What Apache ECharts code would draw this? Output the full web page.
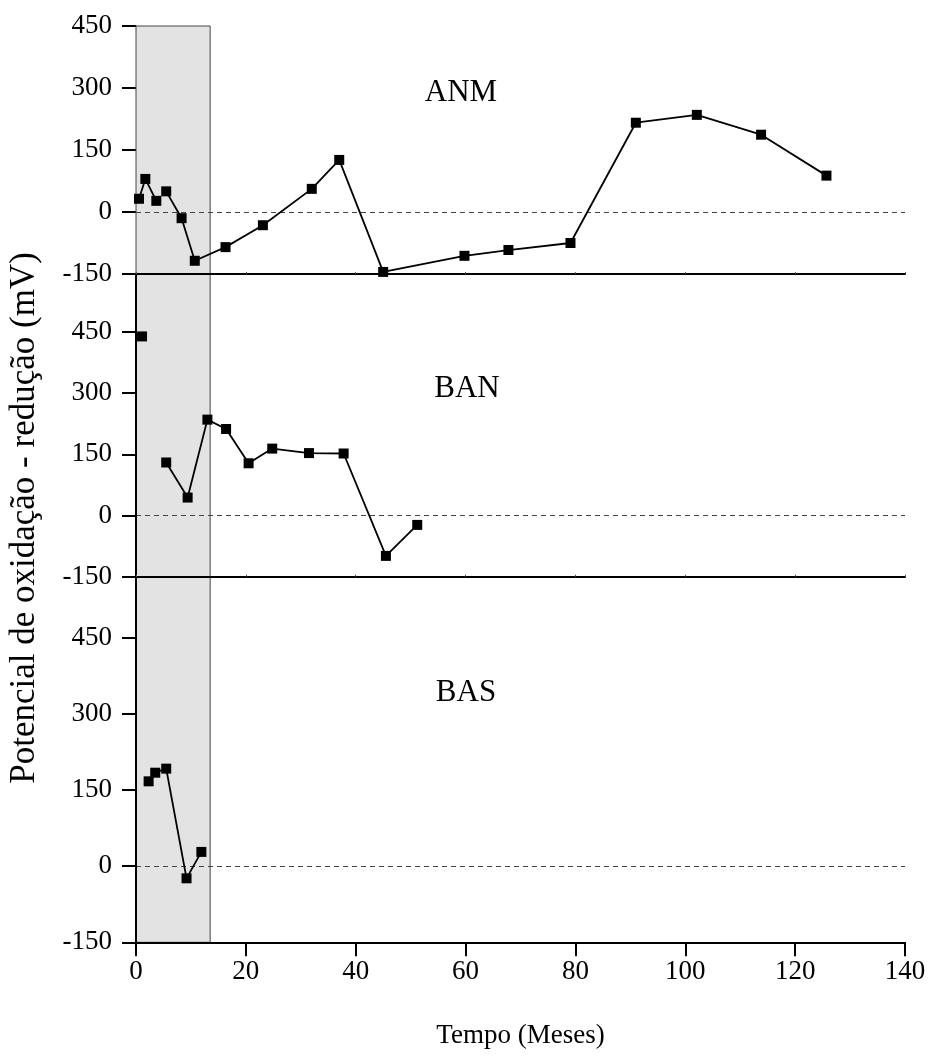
<!DOCTYPE html>
<html>
<head>
<meta charset="utf-8">
<script src="https://cdn.jsdelivr.net/npm/echarts@6/dist/echarts.min.js"></script>
<style>
html,body{margin:0;padding:0;background:#fff;}
#chart{width:930px;height:1059px;}
</style>
</head>
<body>
<div id="chart"></div>
<script>
// ---- data (null marks a break in the line) ----
const anmTempo     = [0.55, 1.7, 3.7, null, 5.5, 8.3, 10.7, 16.3, 23.1, 32.0, 37.0, 45.0, 59.8, 67.8, 79.1, 91.0, 102.1, 113.8, 125.7];
const anmPotencial = [32,   80,  27,  null, 50,  -15, -118, -85,  -32,  56,   126,  -145, -106, -92,  -75,  216,  235,   187,   88];

const banTempo     = [1.1, null, 5.5, 9.4, 13.0, 16.4, 20.5, 24.8, 31.5, 37.8, 45.5, 51.2];
const banPotencial = [439, null, 130, 44,  235,  212,  128,  164,  153,  152,  -99,  -23];

const basTempo     = [2.3, 3.5, 5.5, 9.2, 11.9];
const basPotencial = [167, 184, 192, -24, 28];

const panelNames = ['ANM', 'BAN', 'BAS'];
const yTicks = [-150, 0, 150, 300, 450];
const xTicks = [0, 20, 40, 60, 80, 100, 120, 140];
const shadeStart = 0, shadeEnd = 13.5;   // shaded period (meses)
const yMaxes = [450, 592, 570];           // top of each panel's visible range

function pairs(xs, ys) {
  return xs.map((x, i) => (x === null ? ['-', '-'] : [x, ys[i]]));
}

const FONT = 'Liberation Serif';
const chart = echarts.init(document.getElementById('chart'), null, {renderer: 'canvas'});

const grids = [
  {left: 136, right: 25, top: 26, height: 248},
  {left: 136, right: 25, top: 274, height: 302.7},
  {left: 136, right: 25, top: 576.7, height: 365.6}
];

const xAxes = grids.map((g, i) => ({
  type: 'value', gridIndex: i, min: 0, max: 140, interval: 20, z: 10,
  axisLine: {show: true, onZero: false, lineStyle: {color: '#000', width: 2}},
  axisTick: i === 2 ? {show: true, inside: false, length: 14, lineStyle: {color: '#000', width: 2}}
                    : {show: true, inside: true, length: 2, lineStyle: {color: '#555', width: 1}},
  axisLabel: i === 2 ? {show: true, fontFamily: FONT, fontSize: 27, color: '#000', margin: 16} : {show: false},
  splitLine: {show: false},
  name: i === 2 ? 'Tempo (Meses)' : '',
  nameLocation: 'middle', nameGap: 80,
  nameTextStyle: {fontFamily: FONT, fontSize: 27, color: '#000'}
}));

const yAxes = grids.map((g, i) => ({
  type: 'value', gridIndex: i, min: -150, max: yMaxes[i], z: i === 0 ? 0 : 10,
  axisLine: {show: true, onZero: false, lineStyle: {color: i === 0 ? '#333' : '#000', width: i === 0 ? 1 : 2}},
  axisTick: {show: true, inside: false, length: 14, customValues: yTicks, lineStyle: {color: '#000', width: 2}},
  axisLabel: {show: true, customValues: yTicks, fontFamily: FONT, fontSize: 27, color: '#000', margin: 24},
  splitLine: {show: false}
}));

const datasets = [pairs(anmTempo, anmPotencial), pairs(banTempo, banPotencial), pairs(basTempo, basPotencial)];

const series = datasets.map((d, i) => ({
  type: 'line', xAxisIndex: i, yAxisIndex: i, data: d,
  connectNulls: false,
  symbol: 'rect', symbolSize: 10, showSymbol: true,
  itemStyle: {color: '#000'},
  lineStyle: {color: '#000', width: 1.8},
  z: 5,
  markArea: {
    silent: true,
    itemStyle: {color: '#e3e3e3', borderColor: '#444', borderWidth: 1},
    data: [[{xAxis: shadeStart}, {xAxis: shadeEnd}]]
  },
  markLine: {
    silent: true, symbol: ['none', 'none'],
    label: {show: false},
    lineStyle: {color: '#444', type: [5, 4], width: 1},
    data: [{yAxis: 0}]
  }
}));

const labelPos = [[461, 93], [467, 389], [466, 693]];

chart.setOption({
  animation: false,
  backgroundColor: '#fff',
  grid: grids,
  xAxis: xAxes,
  yAxis: yAxes,
  series: series,
  graphic: [
    {
      type: 'text', x: 25, y: 518, rotation: Math.PI / 2,
      style: {text: 'Potencial de oxidação - redução (mV)', font: '35px "Liberation Serif"', fill: '#000',
              align: 'center', verticalAlign: 'middle'}
    }
  ].concat(panelNames.map((n, i) => ({
    type: 'text', x: labelPos[i][0], y: labelPos[i][1],
    style: {text: n, font: '31px "Liberation Serif"', fill: '#000', align: 'center', verticalAlign: 'middle'}
  })))
});
</script>
</body>
</html>
